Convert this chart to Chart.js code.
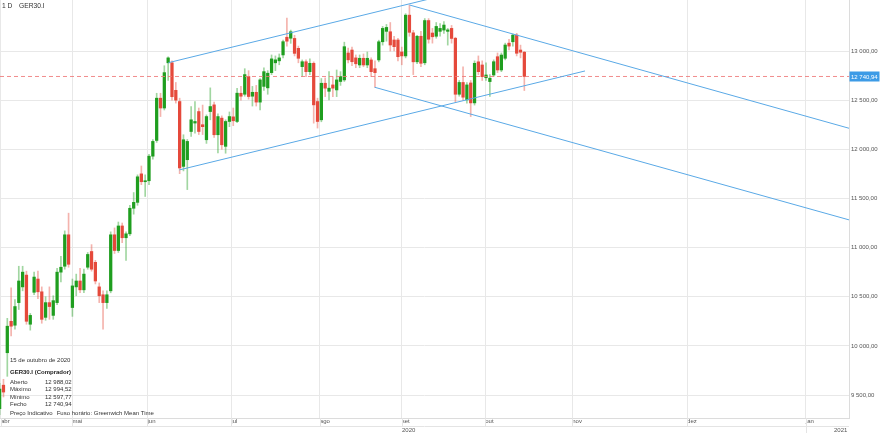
<!DOCTYPE html>
<html><head><meta charset="utf-8">
<script src="https://cdn.jsdelivr.net/npm/chart.js@4.4.0/dist/chart.umd.min.js"></script>
<style>html,body{margin:0;padding:0;background:#fff;overflow:hidden}#wrap{width:880px;height:433px;position:relative}</style>
</head><body><div id="wrap"><canvas id="c" width="880" height="433"></canvas></div>
<script>
// ---- DATA (GER30.I daily, 2 Apr 2020 .. 15 Oct 2020) ----
const FIRST_INDEX = -2; // index of first candle; 6 Apr 2020 = 0 (trading-day index)
const days = ['02/04','03/04','06/04','07/04','08/04','09/04','14/04','15/04','16/04','17/04','20/04','21/04','22/04','23/04','24/04','27/04','28/04','29/04','30/04',
'04/05','05/05','06/05','07/05','08/05','11/05','12/05','13/05','14/05','15/05','18/05','19/05','20/05','21/05','22/05','25/05','26/05','27/05','28/05','29/05',
'01/06','02/06','03/06','04/06','05/06','08/06','09/06','10/06','11/06','12/06','15/06','16/06','17/06','18/06','19/06','22/06','23/06','24/06','25/06','26/06','29/06','30/06',
'01/07','02/07','03/07','06/07','07/07','08/07','09/07','10/07','13/07','14/07','15/07','16/07','17/07','20/07','21/07','22/07','23/07','24/07','27/07','28/07','29/07','30/07','31/07',
'03/08','04/08','05/08','06/08','07/08','10/08','11/08','12/08','13/08','14/08','17/08','18/08','19/08','20/08','21/08','24/08','25/08','26/08','27/08','28/08','31/08',
'01/09','02/09','03/09','04/09','07/09','08/09','09/09','10/09','11/09','14/09','15/09','16/09','17/09','18/09','21/09','22/09','23/09','24/09','25/09','28/09','29/09','30/09',
'01/10','02/10','05/10','06/10','07/10','08/10','09/10','12/10','13/10','14/10','15/10'];
const open = [9360,9600,9930,10250,10210,10440,10600,10720,10220,10545,10680,10550,10290,10440,10310,10440,10750,10810,11130,
10390,10600,10660,10570,10800,10960,10850,10600,10520,10440,10560,11130,10970,11220,11100,11140,11400,11460,11750,11670,
11680,11930,12090,12520,12420,12880,12880,12600,12486,11826,11894,12181,12267,12384,12250,12097,12384,12452,12148,12317,12030,12283,
12330,12283,12570,12560,12740,12540,12580,12480,12640,12625,12780,12880,12900,12960,13140,13130,13128,13027,12841,12891,12790,12875,12486,
12300,12672,12590,12655,12604,12690,12706,12980,13010,12930,12858,12926,12858,12909,12820,12909,13094,13200,13196,13112,13112,
12990,12950,13365,13185,12890,13150,12880,13310,13183,13150,13200,13213,13200,13230,13130,12560,12680,12503,12675,12472,12890,12858,
12728,12689,12756,12942,12807,12926,13080,13094,13162,13010,12988.02];
const high = [9620,9660,10280,10590,10470,10810,10810,10760,10330,10750,10760,10600,10500,10600,10510,10790,10910,11170,11350,
10680,10730,10790,10780,10950,11030,10870,10640,10560,10560,11160,11200,11260,11250,11160,11430,11560,11740,11830,11740,
11950,12100,12570,12570,12850,12940,12900,12680,12520,12148,12100,12435,12486,12420,12450,12350,12625,12480,12360,12340,12300,12380,
12420,12620,12640,12820,12800,12640,12650,12720,12830,12800,12960,12950,12970,13110,13335,13213,13160,13050,12909,12910,12920,12890,12520,
12720,12726,12790,12740,12807,12790,13090,13030,13040,12960,12960,12970,12990,12930,12900,13110,13250,13270,13290,13150,13130,
13040,13380,13467,13210,13160,13200,13330,13330,13230,13290,13280,13300,13230,13260,13140,12700,12840,12680,12700,12900,12950,12900,
12880,12760,12910,12980,12980,13080,13120,13173,13180,13060,12994.52];
const low = [9300,9480,9690,10100,10170,10370,10560,10220,10160,10520,10480,10230,10260,10270,10270,10420,10650,10780,10800,
10300,10510,10540,10540,10780,10760,10630,10440,10170,10380,10540,10940,10950,11050,10870,11120,11340,11430,11640,11520,
11640,11900,12070,12333,12400,12700,12500,12470,11752,11780,11590,12131,12165,12150,12150,12060,12300,12120,11962,12000,11960,12230,
12240,12270,12500,12540,12510,12440,12440,12400,12600,12560,12760,12800,12860,12930,13050,13078,12950,12880,12739,12740,12760,12266,12216,
12280,12536,12503,12536,12536,12650,12690,12880,12850,12830,12830,12840,12830,12739,12630,12890,13060,13100,13000,13000,12900,
12860,12930,13150,12760,12870,12840,12860,13080,13080,13130,13150,13180,13060,13080,12480,12540,12500,12470,12333,12450,12760,12700,
12700,12537,12740,12780,12790,12910,13010,13050,12950,12930,12597.77];
const close = [9560,9530,10200,10200,10400,10660,10750,10250,10310,10700,10550,10270,10440,10400,10460,10750,10800,11130,10830,
10610,10660,10570,10730,10930,10780,10660,10510,10440,10520,11130,10970,11220,11100,11140,11400,11460,11720,11670,11680,
11930,12080,12520,12420,12780,12930,12535,12500,11810,12097,12080,12300,12283,12181,12230,12333,12435,12148,12333,12046,12283,12333,
12290,12571,12540,12760,12537,12580,12480,12706,12790,12774,12920,12910,12930,13095,13100,13196,12976,12926,12891,12790,12875,12452,12283,
12672,12622,12622,12622,12706,12740,13044,12910,12891,12870,12926,12858,12926,12790,12780,13094,13230,13240,13061,13044,12942,
12950,13365,13190,12890,13150,12875,13310,13120,13145,13250,13230,13264,13215,13128,12560,12680,12530,12655,12472,12875,12790,12739,
12756,12723,12891,12807,12959,13061,13050,13162,12977,12988,12740.94];

const lastPrice = 12740.94;
const infoDate = '15 de outubro de 2020';
const infoTitle = 'GER30.I (Comprador)';
const infoNames = ['Aberto','Máximo','Mínimo','Fecho'];
const infoValues = [12988.02, 12994.52, 12597.77, 12740.94];

// axis ticks (x in trading-day index units)
const monthLabels = ['abr','mai','jun','jul','ago','set','out','nov','dez','jan'];
const monthPos    = [-1.65, 17, 36.6, 58.5, 81.6, 103, 124.8, 147.5, 177.5, 208.5];
const yearLabels  = ['2020','2021'];
const yearPos     = [104.8, 217.6];
const priceTicks  = [9500,10000,10500,11000,11500,12000,12500,13000];

// drawn trend lines: [index, price] end points
const channelTop    = [[42.04,12881],[112.98,13556]];
const channelBottom = [[44.91,11790],[150.84,12797]];
const fallTop       = [[105.02,13468],[219.77,12214]];
const fallBottom    = [[95.93,12631],[219.77,11282]];

// ---- CHART ----
const X_MIN = -1.906, X_MAX = 219.77, Y_MIN = 9266, Y_MAX = 13519;
const FONT = '"Liberation Sans", Arial, sans-serif';
const UP = '#1f9e1f', DOWN = '#e5493b';
const UP_W = 'rgba(31,158,31,0.42)', DOWN_W = 'rgba(229,73,59,0.42)';
const TREND = '#5aa9e6';

function fmt(v){
  const s = v.toFixed(2).split('.');
  return s[0].replace(/\B(?=(\d{3})+(?!\d))/g,' ') + ',' + s[1];
}
const isUp = open.map((o,k)=> close[k] >= o);
const wickData = high.map((h,k)=>({x: FIRST_INDEX + k, y:[low[k], h]}));
const bodyData = open.map((o,k)=>({x: FIRST_INDEX + k, y:[o, close[k]]}));
const pts = a => a.map(p=>({x:p[0], y:p[1]}));
const lineDs = (d)=>({type:'line', data:pts(d), borderColor:TREND, borderWidth:1, pointRadius:0, tension:0, order:0});

const overlay = {
  id:'overlay',
  afterDraw(chart){
    const ctx = chart.ctx, xs = chart.scales.x, ys = chart.scales.y;
    const ca = chart.chartArea;
    ctx.save();
    // month label row separators and year row
    ctx.strokeStyle = '#e4e4e4'; ctx.lineWidth = 1;
    monthPos.forEach((p,k)=>{
      const x = Math.round(xs.getPixelForValue(p)) + 0.5;
      ctx.beginPath(); ctx.moveTo(x, ca.bottom); ctx.lineTo(x, k===monthPos.length-1 ? 433 : ca.bottom + 8); ctx.stroke();
    });
    ctx.beginPath(); ctx.moveTo(0, ca.bottom + 8.5); ctx.lineTo(ca.right, ca.bottom + 8.5); ctx.stroke();
    ctx.fillStyle = '#555'; ctx.textBaseline = 'middle'; ctx.textAlign = 'center';
    ctx.font = '6px ' + FONT;
    yearLabels.forEach((t,k)=> ctx.fillText(t, xs.getPixelForValue(yearPos[k]), ca.bottom + 12));
    // header
    ctx.fillStyle = '#333'; ctx.textAlign = 'left';
    ctx.font = '6.7px ' + FONT;
    ctx.fillText('1 D', 2, 6.5);
    ctx.fillText('GER30.I', 19, 6.5);
    // info panel
    ctx.font = '6px ' + FONT; ctx.fillStyle = '#333';
    ctx.fillText(infoDate, 10, 360.7);
    ctx.font = '600 6px ' + FONT; ctx.fillStyle = '#222';
    ctx.fillText(infoTitle, 10, 372.5);
    ctx.font = '6px ' + FONT; ctx.fillStyle = '#333';
    const rows = [382, 389.5, 397.3, 404.6];
    infoNames.forEach((n,k)=>{ ctx.fillText(n, 10, rows[k]); ctx.fillText(fmt(infoValues[k]), 45, rows[k]); });
    ctx.fillText('Preço Indicativo', 10, 413.3);
    ctx.fillText('Fuso horário: Greenwich Mean Time', 56.7, 413.3);
    // last price label
    const y = ys.getPixelForValue(lastPrice);
    ctx.fillStyle = '#3d9be6';
    ctx.fillRect(849.5, Math.round(y) - 4.5, 30, 10);
    ctx.fillStyle = '#fff'; ctx.font = '6px ' + FONT;
    ctx.fillText(fmt(lastPrice), 851, y + 0.5);
    ctx.restore();
  }
};

new Chart(document.getElementById('c'), {
  type:'bar',
  data:{ datasets:[
    {type:'bar', data:wickData, backgroundColor:isUp.map(u=>u?UP_W:DOWN_W), barThickness:1, grouped:false, order:3},
    {type:'bar', data:bodyData, backgroundColor:isUp.map(u=>u?UP:DOWN), barThickness:2.6, minBarLength:1, grouped:false, order:2},
    {type:'line', data:[{x:X_MIN,y:lastPrice},{x:X_MAX,y:lastPrice}], borderColor:'rgba(238,120,120,0.85)', borderWidth:1, borderDash:[4,3], pointRadius:0, order:1},
    lineDs(channelTop), lineDs(channelBottom), lineDs(fallTop), lineDs(fallBottom)
  ]},
  options:{
    responsive:false, animation:false, devicePixelRatio:1,
    layout:{padding:{left:0,right:0,top:0,bottom:7}},
    plugins:{legend:{display:false}, tooltip:{enabled:false}},
    scales:{
      x:{ type:'linear', position:'bottom', min:X_MIN, max:X_MAX, offset:false,
        grid:{color:'#e8e8e8', drawTicks:false, offset:false},
        border:{display:true, color:'#dcdcdc'},
        afterBuildTicks:(s)=>{ s.ticks = monthPos.map(v=>({value:v})); },
        afterFit:(s)=>{ s.height = 8; s.paddingLeft = 0; s.paddingRight = 0; },
        ticks:{ autoSkip:false, maxRotation:0, align:'start', padding:0, color:'#555',
          font:{size:6, family:FONT}, callback:(v,i)=>monthLabels[i] }
      },
      y:{ type:'linear', position:'right', min:Y_MIN, max:Y_MAX,
        grid:{color:'#e8e8e8', drawTicks:false},
        border:{display:true, color:'#dcdcdc'},
        afterBuildTicks:(s)=>{ s.ticks = priceTicks.map(v=>({value:v})); },
        afterFit:(s)=>{ s.width = 31; s.paddingTop = 0; s.paddingBottom = 0; },
        ticks:{ padding:2, color:'#555', font:{size:6, family:FONT}, callback:(v)=>fmt(v) }
      }
    }
  },
  plugins:[overlay]
});
</script></body></html>
